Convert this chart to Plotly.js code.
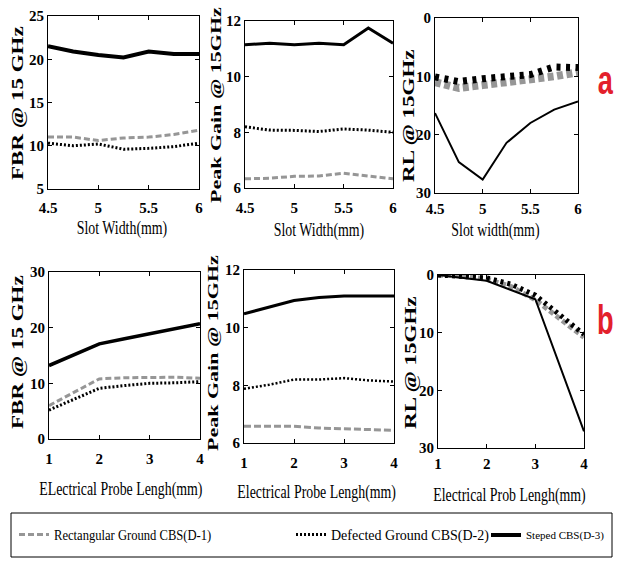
<!DOCTYPE html>
<html>
<head>
<meta charset="utf-8">
<script src="https://cdn.plot.ly/plotly-3.0.1.min.js"></script>
<style>html,body{margin:0;padding:0;background:#fff;}#chart{width:617px;height:562px;}</style>
</head>
<body>
<div id="chart"></div>
<script>
// ---------- data ----------
var slotWidth = [4.5, 4.75, 5, 5.25, 5.5, 5.75, 6];
var fbrSlotD1 = [11.0, 11.0, 10.6, 10.9, 11.0, 11.3, 11.8];
var fbrSlotD2 = [10.3, 10.0, 10.2, 9.6, 9.7, 9.9, 10.3];
var fbrSlotD3 = [21.5, 20.9, 20.5, 20.2, 20.9, 20.6, 20.6];

var gainSlotD1 = [6.33, 6.35, 6.42, 6.43, 6.53, 6.43, 6.33];
var gainSlotD2 = [8.2, 8.08, 8.07, 8.03, 8.12, 8.08, 8.0];
var gainSlotD3 = [11.15, 11.2, 11.15, 11.2, 11.15, 11.75, 11.2];

var rlSlotD1 = [11.0, 12.0, 11.5, 11.0, 10.8, 10.0, 9.3];
var rlSlotD2 = [10.1, 10.9, 10.4, 10.1, 9.7, 8.4, 8.5];
var rlSlotD3 = [16.3, 24.7, 27.7, 21.4, 18.0, 15.7, 14.3];

var probeLen = [1, 1.5, 2, 2.5, 3, 3.5, 4];
var fbrProbeD1 = [6.0, 8.4, 10.8, 11.0, 11.1, 11.1, 10.9];
var fbrProbeD2 = [5.2, 7.2, 9.1, 9.6, 10.0, 10.1, 10.3];
var fbrProbeD3 = [13.2, 15.2, 17.1, 18.0, 18.9, 19.8, 20.7];

var gainProbeD1 = [6.58, 6.58, 6.58, 6.52, 6.5, 6.48, 6.44];
var gainProbeD2 = [7.88, 8.02, 8.2, 8.2, 8.25, 8.17, 8.13];
var gainProbeD3 = [10.48, 10.72, 10.94, 11.05, 11.1, 11.1, 11.1];

var rlProbeD1 = [0.0, 0.2, 0.7, 2.0, 4.3, 7.5, 10.8];
var rlProbeD2 = [0.0, 0.2, 0.5, 1.6, 3.5, 6.9, 10.3];
var probeLenMain = [1, 2, 3, 4];
var rlProbeD3 = [0.0, 1.0, 4.2, 27.1];

var seriesNames = ['Rectangular Ground CBS(D-1)', 'Defected Ground CBS(D-2)', 'Steped CBS(D-3)'];
var yTitles = ['FBR @ 15 GHz', 'Peak Gain @ 15GHz', 'RL @ 15GHz', 'FBR @ 15 GHz', 'Peak Gain @ 15GHz', 'RL @ 15GHz'];
var xTitles = ['Slot Width(mm)', 'Slot Width(mm)', 'Slot width(mm)', 'ELectrical Probe Lengh(mm)', 'Electrical Probe Lengh(mm)', 'Electrical Prob Lengh(mm)'];
var panelLabels = ['a', 'b'];

// ---------- layout helpers ----------
var W = 617, H = 562;
function fx(p) { return p / W; }
function fy(p) { return 1 - p / H; }

var boxes = [
  [48, 199, 16, 189],
  [245, 393, 21, 188],
  [435, 578, 18, 193],
  [49, 200, 272, 439],
  [244, 394, 270, 443],
  [438, 584, 275, 448]
];
var yTitlePos = [[18, 103], [215, 105], [409, 116], [18, 352], [212, 353], [411, 363]];
var yTitleSize = [23, 22, 23, 23, 22, 23];
var xTitlePos = [[122, 228], [319, 230], [495, 230], [121, 489], [316, 492], [509, 495]];
var tickStandoff = [5, 6, 2, 6, 6, 2];

var axisCfg = [
  {xr: [4.5, 6], xd: 0.5, yr: [5, 25], yd: 5},
  {xr: [4.5, 6], xd: 0.5, yr: [6, 12], yd: 2},
  {xr: [4.5, 6], xd: 0.5, yr: [30, 0], yd: 10},
  {xr: [1, 4], xd: 1, yr: [0, 30], yd: 10},
  {xr: [1, 4], xd: 1, yr: [6, 12], yd: 2},
  {xr: [1, 4], xd: 1, yr: [30, 0], yd: 10}
];

var serif = 'Liberation Serif, Times New Roman, serif';
var gray = 'rgb(150,150,150)';

var seriesData = [
  [slotWidth, fbrSlotD1, slotWidth, fbrSlotD2, slotWidth, fbrSlotD3],
  [slotWidth, gainSlotD1, slotWidth, gainSlotD2, slotWidth, gainSlotD3],
  [slotWidth, rlSlotD1, slotWidth, rlSlotD2, slotWidth, rlSlotD3],
  [probeLen, fbrProbeD1, probeLen, fbrProbeD2, probeLen, fbrProbeD3],
  [probeLen, gainProbeD1, probeLen, gainProbeD2, probeLen, gainProbeD3],
  [probeLen, rlProbeD1, probeLen, rlProbeD2, probeLenMain, rlProbeD3]
];

// per panel line styles: [D1 width, D1 dash, D2 width, D2 dash, D3 width]
var styles = [
  [3, '6px,3px', 3, '2px,2px', 4],
  [3, '6px,3px', 3, '2px,2px', 3],
  [8, '6px,3.5px', 7, '4px,5.5px', 2],
  [3, '6px,3px', 3, '2px,2px', 3.5],
  [3, '7px,3px', 2.5, '2px,2px', 3],
  [5, '5px,3px', 5, '3px,4px', 2]
];

var legendIds = ['legend', 'legend2', 'legend3'];
var legendX = [14, 291, 486];
var legendFont = [14, 14, 11];
var legendSquash = [0.9, 0.9, 1];

var traces = [];
var layout = {
  width: W, height: H,
  margin: {l: 0, r: 0, t: 0, b: 0},
  paper_bgcolor: '#fff', plot_bgcolor: '#fff',
  showlegend: true,
  annotations: [],
  shapes: [{
    type: 'rect', xref: 'paper', yref: 'paper',
    x0: fx(11), x1: fx(612), y0: fy(557), y1: fy(513),
    line: {color: '#000', width: 1}
  }]
};
legendIds.forEach(function (id, k) {
  layout[id] = {
    orientation: 'h',
    x: fx(legendX[k]), xanchor: 'left', y: fy(535), yanchor: 'middle',
    font: {family: serif, size: legendFont[k], color: '#000'},
    bgcolor: 'rgba(0,0,0,0)', borderwidth: 0
  };
});

var annScale = [];
for (var i = 0; i < 6; i++) {
  var n = i === 0 ? '' : String(i + 1);
  var d = seriesData[i], s = styles[i], b = boxes[i], c = axisCfg[i];
  traces.push({x: d[0], y: d[1], xaxis: 'x' + n, yaxis: 'y' + n, mode: 'lines', name: seriesNames[0], legend: legendIds[0], legendgroup: 'd1', showlegend: i === 0,
    line: {color: gray, width: s[0], dash: s[1]}});
  traces.push({x: d[2], y: d[3], xaxis: 'x' + n, yaxis: 'y' + n, mode: 'lines', name: seriesNames[1], legend: legendIds[1], legendgroup: 'd2', showlegend: i === 0,
    line: {color: '#000', width: s[2], dash: s[3]}});
  traces.push({x: d[4], y: d[5], xaxis: 'x' + n, yaxis: 'y' + n, mode: 'lines', name: seriesNames[2], legend: legendIds[2], legendgroup: 'd3', showlegend: i === 0,
    line: {color: '#000', width: s[4]}});
  var common = {
    showline: true, linecolor: '#000', linewidth: 1, mirror: 'ticks',
    ticks: 'inside', ticklen: 4, tickcolor: '#000', tickwidth: 1,
    showgrid: false, zeroline: false, fixedrange: true, automargin: false,
    tickfont: {family: serif, size: 15, color: '#000', weight: 'bold'}
  };
  layout['xaxis' + n] = Object.assign({}, common, {
    domain: [fx(b[0]), fx(b[1])], range: c.xr, dtick: c.xd, tick0: c.xr[0],
    anchor: 'y' + n, ticklabelstandoff: tickStandoff[i]
  });
  layout['yaxis' + n] = Object.assign({}, common, {
    domain: [fy(b[3]), fy(b[2])], range: c.yr, dtick: c.yd, tick0: 0,
    anchor: 'x' + n
  });
  layout.annotations.push({
    text: yTitles[i], xref: 'paper', yref: 'paper', x: fx(yTitlePos[i][0]), y: fy(yTitlePos[i][1]),
    xanchor: 'center', yanchor: 'middle', textangle: -90, showarrow: false,
    font: {family: serif, size: yTitleSize[i], color: '#000', weight: 'bold'}
  });
  annScale.push([1, 0.7]);
  layout.annotations.push({
    text: xTitles[i], xref: 'paper', yref: 'paper', x: fx(xTitlePos[i][0]), y: fy(xTitlePos[i][1]),
    xanchor: 'center', yanchor: 'middle', showarrow: false,
    font: {family: serif, size: 19, color: '#000'}
  });
  annScale.push([0.73, 1]);
}

[[80, 0], [320, 1]].forEach(function (p) {
  layout.annotations.push({text: panelLabels[p[1]], xref: 'paper', yref: 'paper', x: fx(605), y: fy(p[0]),
    xanchor: 'center', yanchor: 'middle', showarrow: false,
    font: {family: 'Liberation Sans, Arial, sans-serif', size: 40, color: '#e3202b', weight: 'bold'}});
  annScale.push([0.68, 1]);
});

// condense a text element about an anchor inside its own box (the reference uses a narrow face)
function squash(el, sx, sy, leftAnchor) {
  var bb = el.getBBox();
  var cx = leftAnchor ? bb.x : bb.x + bb.width / 2;
  var cy = bb.y + bb.height / 2;
  var t = el.getAttribute('transform') || '';
  el.setAttribute('transform', t + ' translate(' + cx + ',' + cy + ') scale(' + sx + ',' + sy + ') translate(' + (-cx) + ',' + (-cy) + ')');
}

Plotly.newPlot('chart', traces, layout, {displayModeBar: false, staticPlot: true}).then(function (gd) {
  gd.querySelectorAll('g.annotation').forEach(function (g) {
    var idx = +g.getAttribute('data-index');
    var t = g.querySelector('text.annotation-text');
    if (t && annScale[idx]) squash(t, annScale[idx][0], annScale[idx][1], false);
  });
  legendIds.forEach(function (id, k) {
    if (legendSquash[k] === 1) return;
    var g = gd.querySelector('g.' + id);
    if (!g) return;
    g.querySelectorAll('text.legendtext').forEach(function (t) { squash(t, legendSquash[k], 1, true); });
  });
});
</script>
</body>
</html>
